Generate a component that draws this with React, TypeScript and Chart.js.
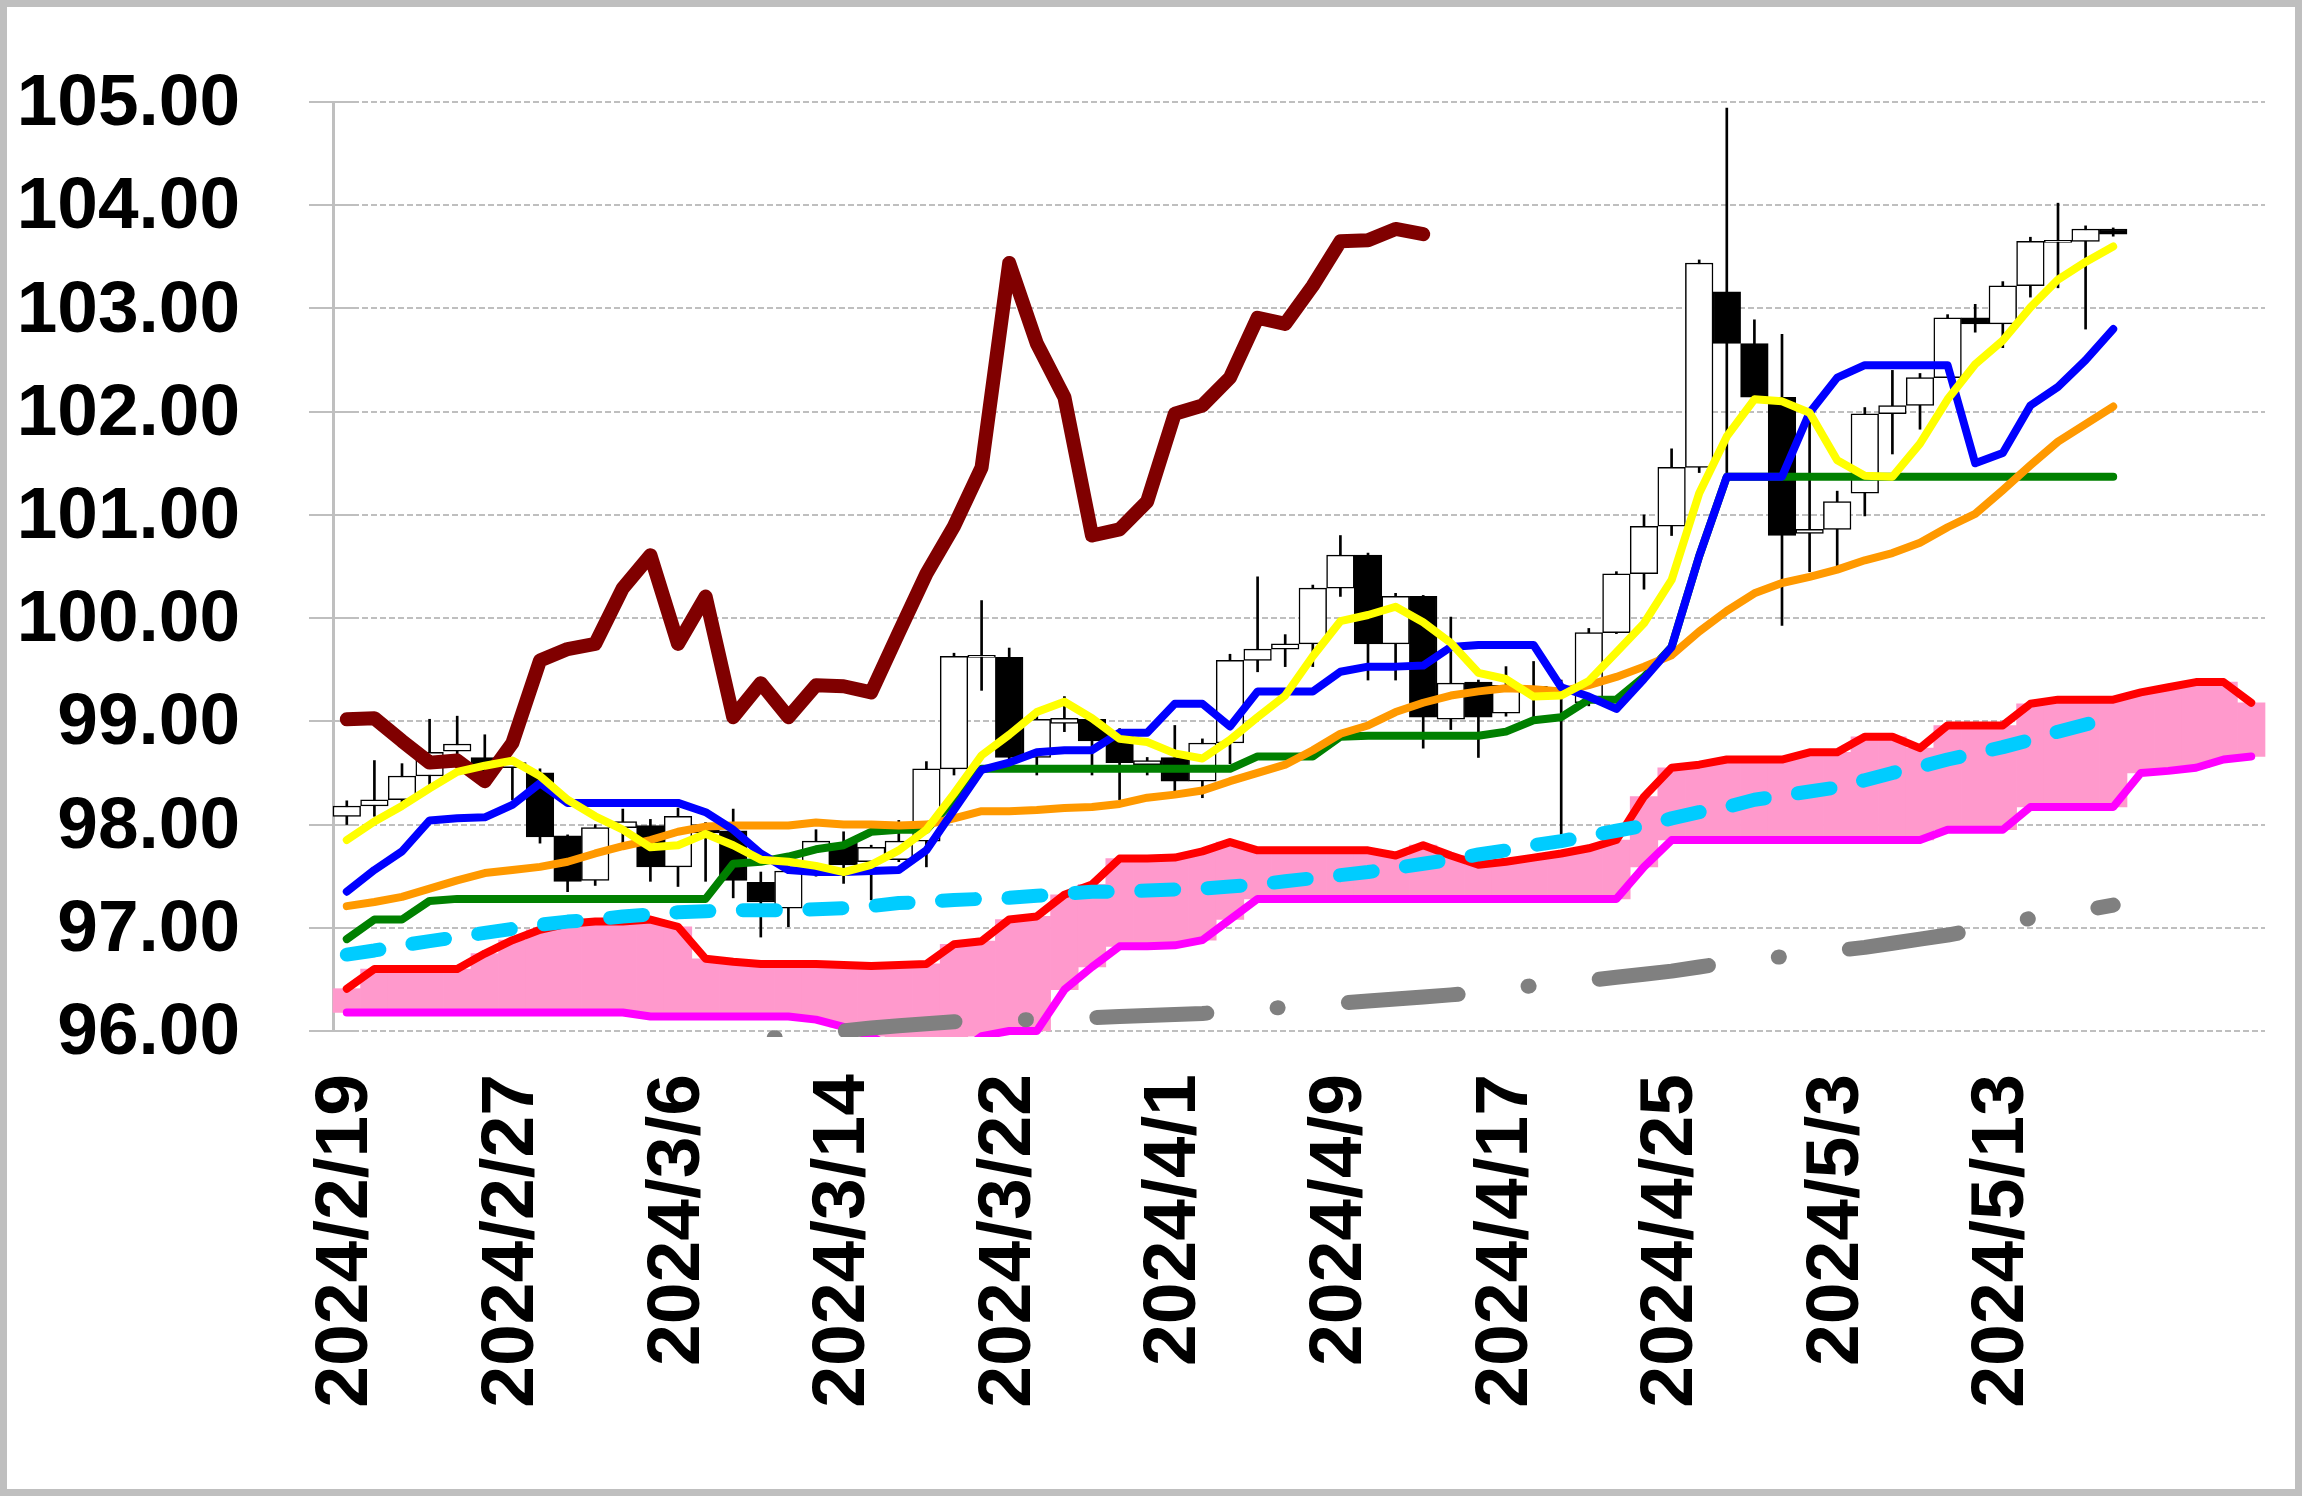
import React, { useEffect, useRef } from 'react';
import { Chart, registerables } from 'chart.js';

Chart.register(...registerables);

// ---- data ----
const dates = [
  '2024/2/19', '2024/2/20', '2024/2/21', '2024/2/22', '2024/2/23', '2024/2/26', '2024/2/27', '2024/2/28', '2024/2/29',
  '2024/3/1', '2024/3/4', '2024/3/5', '2024/3/6', '2024/3/7', '2024/3/8', '2024/3/11', '2024/3/12', '2024/3/13', '2024/3/14',
  '2024/3/15', '2024/3/18', '2024/3/19', '2024/3/20', '2024/3/21', '2024/3/22', '2024/3/25', '2024/3/26', '2024/3/27',
  '2024/3/28', '2024/3/29', '2024/4/1', '2024/4/2', '2024/4/3', '2024/4/4', '2024/4/5', '2024/4/8', '2024/4/9', '2024/4/10',
  '2024/4/11', '2024/4/12', '2024/4/15', '2024/4/16', '2024/4/17', '2024/4/18', '2024/4/19', '2024/4/22', '2024/4/23',
  '2024/4/24', '2024/4/25', '2024/4/26', '2024/4/29', '2024/4/30', '2024/5/1', '2024/5/2', '2024/5/3', '2024/5/6',
  '2024/5/7', '2024/5/8', '2024/5/9', '2024/5/10', '2024/5/13', '2024/5/14', '2024/5/15', '2024/5/16', '2024/5/17',
  '', '', '', '', '',
];

const opens = [
  98.08, 98.18, 98.24, 98.47, 98.71, 98.65, 98.55, 98.50, 97.89, 97.46,
  97.97, 97.99, 97.59, 98.00, 97.94, 97.44, 97.19, 97.55, 97.82, 97.64,
  97.66, 97.84, 98.54, 99.62, 99.62, 98.65, 98.98, 99.02, 98.89, 98.58,
  98.65, 98.42, 98.79, 99.59, 99.70, 99.75, 100.29, 100.61, 99.75, 100.21,
  99.02, 99.38, 99.08, 99.30, 99.26, 99.18, 99.86, 100.43, 100.89, 101.46,
  103.16, 102.66, 102.14, 100.82, 100.86, 101.21, 101.98, 102.06, 102.33, 102.91,
  102.85, 103.22, 103.64, 103.65, 103.77,
];
const highs = [
  98.23, 98.62, 98.59, 99.02, 99.05, 98.87, 98.64, 98.54, 97.90, 98.00,
  98.15, 98.05, 98.16, 98.02, 98.15, 97.54, 97.56, 97.95, 97.93, 97.80,
  98.04, 98.61, 99.66, 100.17, 99.71, 99.05, 99.24, 99.03, 98.93, 98.65,
  98.96, 98.83, 99.65, 100.40, 99.84, 100.32, 100.80, 100.63, 100.24, 100.22,
  100.01, 99.40, 99.53, 99.58, 99.40, 99.90, 100.45, 101.00, 101.64, 103.47,
  104.94, 102.89, 102.75, 101.90, 101.23, 102.04, 102.40, 102.37, 102.94, 103.04,
  103.26, 103.69, 104.02, 103.80, 103.78,
];
const lows = [
  98.00, 98.08, 98.22, 98.37, 98.65, 98.45, 98.24, 97.82, 97.35, 97.41,
  97.82, 97.45, 97.40, 97.45, 97.29, 96.91, 97.01, 97.50, 97.43, 97.27,
  97.64, 97.59, 98.48, 99.30, 98.60, 98.48, 98.90, 98.48, 98.24, 98.48,
  98.32, 98.26, 98.59, 99.48, 99.53, 99.53, 100.21, 99.40, 99.40, 98.74,
  98.92, 98.65, 99.05, 99.04, 97.88, 99.15, 99.85, 100.28, 100.80, 101.41,
  101.41, 102.10, 99.93, 100.45, 100.50, 100.99, 101.59, 101.83, 102.33, 102.77,
  102.62, 103.11, 103.20, 102.80, 103.70,
];
const closes = [
  98.18, 98.24, 98.47, 98.70, 98.78, 98.50, 98.60, 97.88, 97.45, 97.97,
  98.03, 97.59, 98.08, 97.92, 97.46, 97.25, 97.55, 97.84, 97.61, 97.78,
  97.84, 98.54, 99.63, 99.64, 98.65, 99.02, 99.03, 98.81, 98.60, 98.62,
  98.42, 98.79, 99.59, 99.70, 99.75, 100.29, 100.61, 99.75, 100.21, 99.04,
  99.37, 99.04, 99.35, 99.34, 99.28, 99.86, 100.43, 100.89, 101.46, 103.44,
  102.66, 102.14, 100.80, 100.86, 101.13, 101.98, 102.06, 102.33, 102.91, 102.85,
  103.22, 103.65, 103.66, 103.77, 103.72,
];

// lagging span (brown)
const chikou = [
  99.02, 99.03, 98.81, 98.60, 98.62, 98.42, 98.79, 99.59, 99.70, 99.75,
  100.29, 100.61, 99.75, 100.21, 99.04, 99.37, 99.04, 99.35, 99.34, 99.28,
  99.86, 100.43, 100.89, 101.46, 103.44, 102.66, 102.14, 100.80, 100.86, 101.13,
  101.98, 102.06, 102.33, 102.91, 102.85, 103.22, 103.65, 103.66, 103.77, 103.72,
];

// conversion line (blue)
const tenkan = [
  97.35, 97.56, 97.74, 98.04, 98.06, 98.07, 98.19, 98.40, 98.21, 98.21,
  98.21, 98.21, 98.21, 98.12, 97.95, 97.72, 97.56, 97.54, 97.54, 97.55,
  97.56, 97.75, 98.14, 98.53, 98.60, 98.70, 98.72, 98.72, 98.89, 98.89,
  99.17, 99.17, 98.95, 99.29, 99.29, 99.29, 99.48, 99.53, 99.53, 99.54,
  99.72, 99.74, 99.74, 99.74, 99.33, 99.24, 99.12, 99.41, 99.72, 100.60,
  101.37, 101.37, 101.37, 101.99, 102.33, 102.45, 102.45, 102.45, 102.45, 101.50,
  101.60, 102.06, 102.24, 102.50, 102.80,
];

// base line (green)
const kijun = [
  96.89, 97.08, 97.08, 97.26, 97.28, 97.28, 97.28, 97.28, 97.28, 97.28,
  97.28, 97.28, 97.28, 97.28, 97.62, 97.64, 97.69, 97.76, 97.80, 97.93,
  97.95, 97.95, 98.24, 98.54, 98.54, 98.54, 98.54, 98.54, 98.54, 98.54,
  98.54, 98.54, 98.54, 98.66, 98.66, 98.66, 98.85, 98.86, 98.86, 98.86,
  98.86, 98.86, 98.90, 99.01, 99.04, 99.21, 99.21, 99.43, 99.72, 100.60,
  101.37, 101.37, 101.37, 101.37, 101.37, 101.37, 101.37, 101.37, 101.37, 101.37,
  101.37, 101.37, 101.37, 101.37, 101.37,
];

// short moving average (yellow)
const maShort = [
  97.85, 98.03, 98.18, 98.35, 98.51, 98.57, 98.62, 98.47, 98.24, 98.08,
  97.95, 97.78, 97.80, 97.91, 97.80, 97.66, 97.64, 97.60, 97.54, 97.61,
  97.75, 97.95, 98.30, 98.67, 98.87, 99.09, 99.19, 99.03, 98.83, 98.80,
  98.69, 98.64, 98.82, 99.04, 99.25, 99.63, 99.97, 100.03, 100.11, 99.96,
  99.76, 99.47, 99.41, 99.24, 99.25, 99.39, 99.67, 99.95, 100.37, 101.21,
  101.76, 102.12, 102.10, 101.99, 101.53, 101.38, 101.37, 101.69, 102.12, 102.46,
  102.69, 103.01, 103.28, 103.45, 103.60,
];

// medium moving average (orange)
const maMid = [
  97.21, 97.25, 97.30, 97.38, 97.46, 97.53, 97.56, 97.59, 97.64, 97.72,
  97.79, 97.85, 97.93, 97.98, 97.99, 97.99, 97.99, 98.02, 98.00, 98.00,
  97.99, 98.00, 98.06, 98.13, 98.13, 98.14, 98.16, 98.17, 98.20, 98.26,
  98.29, 98.33, 98.42, 98.50, 98.58, 98.72, 98.88, 98.96, 99.09, 99.18,
  99.25, 99.29, 99.32, 99.31, 99.29, 99.35, 99.43, 99.53, 99.64, 99.87,
  100.07, 100.24, 100.34, 100.40, 100.47, 100.56, 100.63, 100.73, 100.88, 101.01,
  101.24, 101.48, 101.71, 101.88, 102.05,
];

// long moving average (cyan dashed)
const maLong = [
  96.74, 96.78, 96.83, 96.87, 96.91, 96.95, 96.99, 97.03, 97.06, 97.08,
  97.11, 97.13, 97.15, 97.16, 97.17, 97.17, 97.17, 97.18, 97.19, 97.21,
  97.24, 97.25, 97.27, 97.28, 97.29, 97.31, 97.33, 97.35, 97.35, 97.36,
  97.37, 97.38, 97.40, 97.42, 97.45, 97.48, 97.51, 97.54, 97.58, 97.62,
  97.66, 97.71, 97.75, 97.80, 97.84, 97.89, 97.94, 97.99, 98.06, 98.12,
  98.17, 98.24, 98.28, 98.32, 98.36, 98.43, 98.50, 98.56, 98.63, 98.69,
  98.75, 98.82, 98.90, 98.97, 99.04,
];

// very long moving average (gray dash-dot), first value at index 15
const maVeryLongStart = 15;
const maVeryLong = [
  95.92, 95.95, 95.98, 96.00, 96.03, 96.05, 96.07, 96.09, 96.10, 96.11,
  96.11, 96.12, 96.13, 96.14, 96.15, 96.16, 96.17, 96.19, 96.21, 96.23,
  96.25, 96.27, 96.29, 96.31, 96.33, 96.35, 96.37, 96.41, 96.44, 96.47,
  96.49, 96.52, 96.55, 96.58, 96.62, 96.66, 96.69, 96.72, 96.75, 96.78,
  96.81, 96.85, 96.89, 96.93, 96.98, 97.04, 97.09, 97.13, 97.17, 97.22,
];

// leading span A (red) and B (magenta)
const spanA = [
  96.41, 96.60, 96.60, 96.60, 96.60, 96.75, 96.88, 96.98, 97.04, 97.06,
  97.06, 97.08, 97.01, 96.70, 96.67, 96.65, 96.65, 96.65, 96.64, 96.63,
  96.64, 96.65, 96.84, 96.87, 97.08, 97.11, 97.32, 97.42, 97.67, 97.67,
  97.68, 97.74, 97.83, 97.75, 97.75, 97.75, 97.75, 97.75, 97.70, 97.80,
  97.70, 97.61, 97.64, 97.68, 97.72, 97.77, 97.85, 98.27, 98.55, 98.58,
  98.63, 98.63, 98.63, 98.70, 98.70, 98.85, 98.85, 98.74, 98.96, 98.96,
  98.96, 99.17, 99.21, 99.21, 99.21, 99.28, 99.33, 99.38, 99.38, 99.18,
];
const spanB = [
  96.18, 96.18, 96.18, 96.18, 96.18, 96.18, 96.18, 96.18, 96.18, 96.18,
  96.18, 96.14, 96.14, 96.14, 96.14, 96.14, 96.14, 96.11, 96.04, 95.95,
  95.80, 95.70, 95.75, 95.95, 96.00, 96.00, 96.40, 96.62, 96.82, 96.82,
  96.83, 96.88, 97.08, 97.28, 97.28, 97.28, 97.28, 97.28, 97.28, 97.28,
  97.28, 97.28, 97.28, 97.28, 97.28, 97.28, 97.28, 97.59, 97.85, 97.85,
  97.85, 97.85, 97.85, 97.85, 97.85, 97.85, 97.85, 97.85, 97.95, 97.95,
  97.95, 98.17, 98.17, 98.17, 98.17, 98.50, 98.52, 98.55, 98.63, 98.66,
];

const yMin = 96;
const yMax = 105;

const FONT_FAMILY = '"Liberation Sans", Arial, sans-serif';

export default function App() {
  const ref = useRef<HTMLCanvasElement>(null);

  useEffect(() => {
    const canvas = ref.current;
    if (!canvas) return;

    const bodies = opens.map((o, i) => [o, closes[i]]);
    const wicks = lows.map((l, i) => [l, highs[i]]);
    const bodyColors = opens.map((o, i) => (closes[i] >= o ? '#FFFFFF' : '#000000'));
    const cloud = spanA.map((a, i) => [Math.min(a, spanB[i]), Math.max(a, spanB[i])]);
    const veryLongData = dates.map((_, i) =>
      i >= maVeryLongStart && i - maVeryLongStart < maVeryLong.length ? maVeryLong[i - maVeryLongStart] : null
    );

    const clip = { left: 10, top: 10, right: 10, bottom: 6 };
    const lineBase = {
      type: 'line' as const,
      pointRadius: 0,
      tension: 0,
      fill: false,
      borderCapStyle: 'round' as const,
      borderJoinStyle: 'round' as const,
      clip,
    };

    const framePlugin = {
      id: 'frame',
      beforeDraw(chart: any) {
        const { ctx, width, height } = chart;
        ctx.save();
        ctx.fillStyle = '#FFFFFF';
        ctx.fillRect(0, 0, width, height);
        ctx.restore();
      },
      afterDraw(chart: any) {
        const { ctx, width, height } = chart;
        ctx.save();
        ctx.strokeStyle = '#BFBFBF';
        ctx.lineWidth = 7;
        ctx.strokeRect(3.5, 3.5, width - 7, height - 7);
        ctx.restore();
      },
    };

    const crossTicks = {
      id: 'crossTicks',
      beforeDatasetsDraw(chart: any) {
        const { ctx, chartArea } = chart;
        const ys = chart.scales.y;
        ctx.save();
        ctx.strokeStyle = '#BFBFBF';
        ctx.lineWidth = 2;
        ys.ticks.forEach((t: any) => {
          const py = Math.round(ys.getPixelForValue(t.value));
          ctx.beginPath();
          ctx.moveTo(chartArea.left, py);
          ctx.lineTo(chartArea.left + 24, py);
          ctx.stroke();
        });
        ctx.restore();
      },
    };

    const chart = new Chart(canvas, {
      type: 'bar',
      data: {
        labels: dates,
        datasets: [
          {
            type: 'bar',
            label: 'cloud',
            data: cloud as any,
            backgroundColor: '#FF99CC',
            borderWidth: 0,
            barPercentage: 1,
            categoryPercentage: 1,
            grouped: false,
            order: 30,
            clip,
          } as any,
          {
            type: 'bar',
            label: 'wick',
            data: wicks as any,
            backgroundColor: '#000000',
            borderWidth: 0,
            barThickness: 2,
            grouped: false,
            order: 21,
            clip,
          } as any,
          {
            type: 'bar',
            label: 'body',
            data: bodies as any,
            backgroundColor: bodyColors,
            borderColor: '#000000',
            borderWidth: 1.5,
            borderSkipped: false,
            barPercentage: 1,
            categoryPercentage: 1,
            grouped: false,
            order: 20,
            clip,
          } as any,
          { ...lineBase, label: 'spanA', data: spanA, borderColor: '#FF0000', borderWidth: 8, order: 12 } as any,
          { ...lineBase, label: 'spanB', data: spanB, borderColor: '#FF00FF', borderWidth: 8, order: 11 } as any,
          {
            ...lineBase,
            label: 'maVeryLong',
            data: veryLongData,
            borderColor: '#808080',
            borderWidth: 15,
            borderDash: [110, 70.5, 1, 70.5],
            borderDashOffset: 167,
            order: 10,
          } as any,
          {
            ...lineBase,
            label: 'maLong',
            data: maLong,
            borderColor: '#00CCFF',
            borderWidth: 14,
            borderDash: [33, 33.5],
            borderDashOffset: 0,
            order: 9,
          } as any,
          { ...lineBase, label: 'kijun', data: kijun, borderColor: '#008000', borderWidth: 8, order: 8 } as any,
          { ...lineBase, label: 'maMid', data: maMid, borderColor: '#FF9900', borderWidth: 8, order: 7 } as any,
          { ...lineBase, label: 'tenkan', data: tenkan, borderColor: '#0000FF', borderWidth: 8, order: 6 } as any,
          { ...lineBase, label: 'chikou', data: chikou, borderColor: '#800000', borderWidth: 14, order: 5 } as any,
          { ...lineBase, label: 'maShort', data: maShort, borderColor: '#FFFF00', borderWidth: 8, order: 4 } as any,
        ],
      },
      options: {
        responsive: false,
        animation: false,
        devicePixelRatio: 1,
        events: [],
        layout: { padding: { left: 0, right: 37, top: 102, bottom: 0 } },
        plugins: {
          legend: { display: false },
          tooltip: { enabled: false },
        },
        scales: {
          x: {
            type: 'category',
            offset: true,
            grid: { display: false, drawTicks: false },
            border: { display: false },
            ticks: {
              autoSkip: false,
              maxRotation: 90,
              minRotation: 90,
              padding: 43,
              color: '#000000',
              font: { family: FONT_FAMILY, size: 75, weight: 'bold' },
              callback: function (this: any, value: any, index: number) {
                return index % 6 === 0 ? this.getLabelForValue(value) : '';
              },
            },
            afterFit: (s: any) => {
              s.height = 465;
              s.paddingLeft = 0;
              s.paddingRight = 0;
              s.paddingTop = 0;
              s.paddingBottom = 0;
            },
          },
          y: {
            type: 'linear',
            min: yMin,
            max: yMax,
            grid: {
              color: '#BFBFBF',
              lineWidth: 2,
              tickLength: 24,
              tickColor: '#BFBFBF',
              tickWidth: 2,
            },
            border: { display: true, color: '#BFBFBF', width: 3, dash: [6, 3] },
            ticks: {
              stepSize: 1,
              padding: 69,
              labelOffset: 3,
              color: '#000000',
              font: { family: FONT_FAMILY, size: 73, weight: 'bold' },
              callback: (v: any) => Number(v).toFixed(2),
            },
            afterFit: (s: any) => {
              s.width = 333;
              s.paddingTop = 0;
              s.paddingBottom = 0;
              s.paddingLeft = 0;
              s.paddingRight = 0;
            },
          },
        },
      } as any,
      plugins: [framePlugin, crossTicks],
    });

    return () => {
      chart.destroy();
    };
  }, []);

  return (
    <div style={{ position: 'fixed', left: 0, top: 0, width: 2302, height: 1496, background: '#FFFFFF' }}>
      <canvas ref={ref} width={2302} height={1496} style={{ display: 'block' }} />
    </div>
  );
}
